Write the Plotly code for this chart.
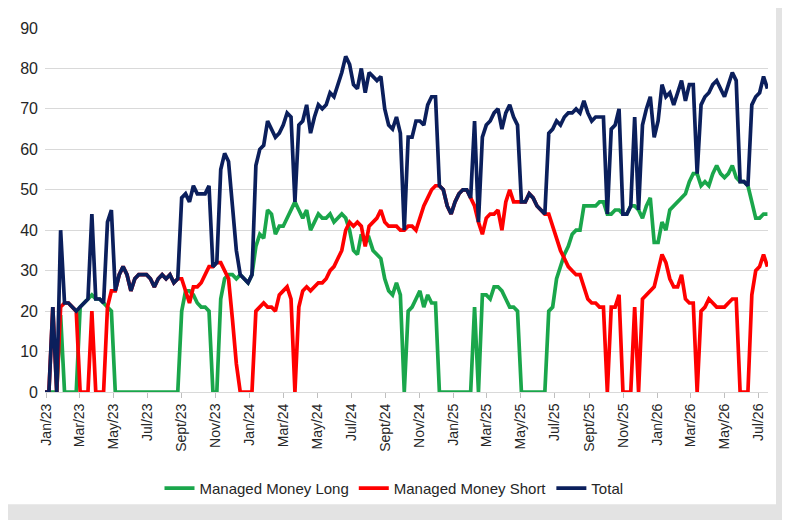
import plotly.graph_objects as go
import pandas as pd

# weekly observations (first week ending 2022-12-30)
start_date = "2022-12-30"

managed_money_long = [
    0, 0, 0, 0, 19, 0, 0, 0, 0, 21,
    22, 23, 24, 23, 23, 22, 21, 20, 0, 0,
    0, 0, 0, 0, 0, 0, 0, 0, 0, 0,
    0, 0, 0, 0, 0, 20, 25, 25, 24, 22,
    21, 21, 20, 0, 0, 23, 28, 29, 29, 28,
    29, 28, 27, 29, 36, 39, 38, 45, 44, 39,
    41, 41, 43, 45, 47, 45, 43, 45, 40, 42,
    44, 43, 43, 44, 42, 43, 44, 43, 40, 35,
    34, 39, 37, 38, 35, 34, 33, 28, 25, 24,
    27, 24, 0, 20, 21, 23, 25, 21, 24, 22,
    22, 0, 0, 0, 0, 0, 0, 0, 0, 0,
    21, 0, 24, 24, 23, 26, 26, 25, 23, 21,
    21, 20, 0, 0, 0, 0, 0, 0, 0, 20,
    21, 28, 31, 34, 36, 39, 40, 40, 46, 46,
    46, 46, 47, 47, 44, 44, 45, 45, 44, 44,
    46, 46, 45, 43, 46, 48, 37, 37, 42, 40,
    45, 46, 47, 48, 49, 52, 54, 54, 51, 52,
    51, 54, 56, 54, 53, 54, 56, 53, 52, 52,
    51, 47, 43, 43, 44, 44,
]

managed_money_short = [
    0, 0, 21, 0, 21, 22, 22, 21, 20, 0,
    0, 0, 20, 0, 0, 0, 21, 25, 25, 29,
    31, 29, 25, 28, 29, 29, 29, 28, 26, 28,
    29, 28, 29, 27, 28, 28, 25, 22, 26, 26,
    27, 29, 31, 31, 32, 32, 30, 28, 18, 7,
    0, 0, 0, 0, 20, 21, 22, 21, 21, 20,
    24, 25, 26, 23, 0, 21, 25, 26, 25, 26,
    27, 27, 28, 30, 31, 33, 35, 40, 42, 41,
    42, 41, 36, 41, 42, 43, 45, 42, 41, 41,
    41, 40, 40, 41, 41, 40, 43, 46, 48, 50,
    51, 51, 50, 46, 44, 47, 49, 50, 50, 48,
    46, 42, 39, 43, 44, 44, 45, 40, 47, 50,
    47, 47, 47, 47, 49, 48, 46, 45, 44, 44,
    41, 38, 35, 33, 31, 30, 29, 29, 26, 23,
    22, 22, 21, 21, 0, 21, 21, 24, 0, 0,
    0, 21, 0, 23, 24, 25, 26, 30, 34, 32,
    28, 26, 26, 29, 23, 22, 22, 0, 20, 21,
    23, 22, 21, 21, 21, 22, 23, 23, 0, 0,
    0, 24, 30, 31, 34, 31,
]

total = [
    0, 0, 21, 0, 40, 22, 22, 21, 20, 21,
    22, 23, 44, 23, 23, 22, 42, 45, 25, 29,
    31, 29, 25, 28, 29, 29, 29, 28, 26, 28,
    29, 28, 29, 27, 28, 48, 49, 47, 51, 49,
    49, 49, 51, 31, 32, 55, 59, 57, 46, 35,
    29, 28, 27, 29, 56, 60, 61, 67, 65, 63,
    64, 66, 69, 68, 47, 66, 67, 71, 64, 68,
    71, 70, 71, 74, 73, 76, 79, 83, 81, 76,
    75, 80, 74, 79, 78, 77, 78, 70, 66, 65,
    68, 64, 40, 63, 63, 67, 67, 66, 71, 73,
    73, 51, 50, 46, 44, 47, 49, 50, 50, 48,
    67, 42, 63, 66, 67, 69, 70, 65, 69, 71,
    68, 66, 47, 47, 49, 48, 46, 45, 44, 64,
    65, 67, 66, 68, 69, 69, 70, 69, 72, 69,
    67, 68, 68, 68, 44, 65, 66, 70, 44, 44,
    46, 68, 45, 66, 70, 73, 63, 67, 76, 73,
    74, 71, 74, 77, 72, 76, 76, 54, 71, 73,
    74, 76, 77, 75, 73, 76, 79, 77, 52, 52,
    51, 71, 73, 74, 78, 75,
]

tick_dates = [
    "2023-01-01", "2023-03-01", "2023-05-01", "2023-07-01", "2023-09-01", "2023-11-01",
    "2024-01-01", "2024-03-01", "2024-05-01", "2024-07-01", "2024-09-01", "2024-11-01",
    "2025-01-01", "2025-03-01", "2025-05-01", "2025-07-01", "2025-09-01", "2025-11-01",
    "2026-01-01", "2026-03-01", "2026-05-01", "2026-07-01",
]
tick_labels = [
    "Jan/23", "Mar/23", "May/23", "Jul/23", "Sept/23", "Nov/23",
    "Jan/24", "Mar/24", "May/24", "Jul/24", "Sept/24", "Nov/24",
    "Jan/25", "Mar/25", "May/25", "Jul/25", "Sept/25", "Nov/25",
    "Jan/26", "Mar/26", "May/26", "Jul/26",
]

dates = pd.date_range(start_date, periods=len(total), freq="7D")

FONT = "Liberation Sans Narrow, Liberation Sans, Arial, sans-serif"
# the page adds an 8px body margin, so the figure is drawn 8px in from the top-left
OFF = 8
W, H = 790 - OFF, 520 - OFF
L, T = 45 - OFF, 22 - OFF
R, B = W - (768 - OFF), H - (392 - OFF)
pw, ph = W - L - R, H - T - B

fig = go.Figure()
series = [
    ("Managed Money Long", managed_money_long, "#1aa64b"),
    ("Managed Money Short", managed_money_short, "#ff0000"),
    ("Total", total, "#0b1f5c"),
]
for name, vals, col in series:
    fig.add_trace(go.Scatter(
        x=dates[:len(vals)], y=vals, name=name, mode="lines",
        line=dict(color=col, width=3.7),
    ))

# white chart area with grey frame on right/bottom (page coords 0..776 x 0..506)
fig.add_shape(type="rect", xref="paper", yref="paper", layer="below",
              x0=(0 - OFF - L) / pw, x1=(776 - OFF - L) / pw,
              y0=(H - B - (506 - OFF)) / ph, y1=(H - B + OFF) / ph,
              fillcolor="white", line=dict(width=0))

fig.update_layout(
    width=W, height=H,
    margin=dict(l=L, r=R, t=T, b=B),
    paper_bgcolor="#e3e3e3", plot_bgcolor="white",
    font=dict(family=FONT, color="#262626"),
    showlegend=True,
    legend=dict(orientation="h", x=(394 - OFF - L) / pw, xanchor="center",
                y=(H - B - (490 - OFF)) / ph, yanchor="middle",
                font=dict(size=15, family=FONT, color="#262626"),
                bgcolor="rgba(0,0,0,0)", itemwidth=30),
    xaxis=dict(
        type="date", range=["2022-12-30", "2026-07-18"],
        tickmode="array", tickvals=tick_dates, ticktext=tick_labels,
        tickangle=-90, tickfont=dict(size=14, family=FONT, color="#262626"),
        ticks="outside", ticklen=5, tickcolor="#bfbfbf",
        showgrid=False, showline=True, linecolor="#d9d9d9", linewidth=1,
        zeroline=False,
    ),
    yaxis=dict(
        range=[0, 90], dtick=10, tick0=0,
        tickfont=dict(size=16, family=FONT, color="#262626"),
        showgrid=True, gridcolor="#d9d9d9", gridwidth=1,
        zeroline=False, showline=False, ticks="", ticklabelstandoff=6,
    ),
)

fig.write_html("out.html")
